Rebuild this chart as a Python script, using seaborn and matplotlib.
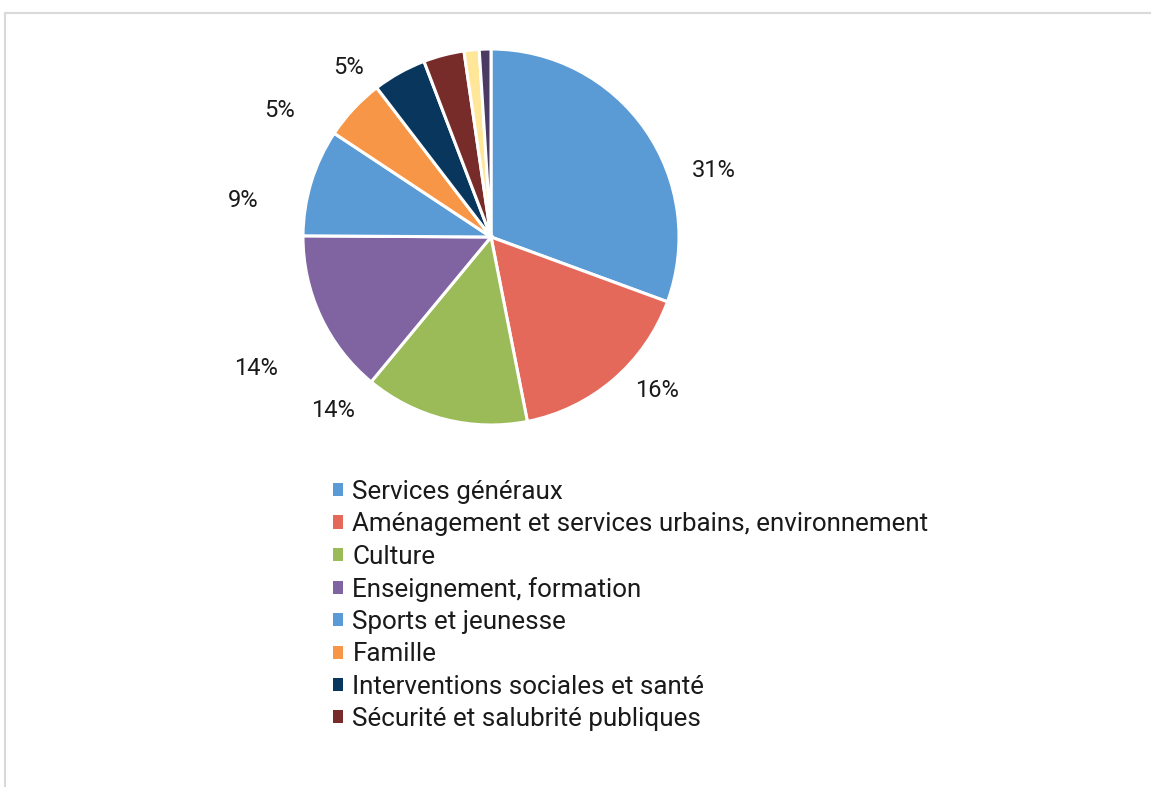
import numpy as np
import matplotlib
matplotlib.use("Agg")
import matplotlib.pyplot as plt
from matplotlib.lines import Line2D
from matplotlib.patches import Patch
import seaborn as sns

categories = [
    "Services généraux",
    "Aménagement et services urbains, environnement",
    "Culture",
    "Enseignement, formation",
    "Sports et jeunesse",
    "Famille",
    "Interventions sociales et santé",
    "Sécurité et salubrité publiques",
    "Autre 1",
    "Autre 2",
]
values = [30.6, 16.3, 14.1, 14.1, 9.2, 5.3, 4.6, 3.5, 1.3, 1.0]
pct_labels = ["31%", "16%", "14%", "14%", "9%", "5%", "5%", "", "", ""]
legend_count = 8

colors = ["#5B9BD5", "#E5695A", "#9BBB59", "#8064A2", "#5B9BD5",
          "#F79646", "#08365D", "#772C2A", "#FFE699", "#4B3A61"]

# label placement (degrees clockwise from top, distance in radii)
label_angle = [73.3, 132.8, 222.4, 240.8, 278.3, 301.0, 320.0]
label_dist = [1.24, 1.20, 1.25, 1.43, 1.33, 1.31, 1.18]

sns.set_theme(style="white")
plt.rcParams["font.family"] = ["Roboto", "DejaVu Sans"]

W, H = 1151, 787
fig = plt.figure(figsize=(W / 100, H / 100), dpi=100)

cx, cy, R = 491, 237, 188
span = 1.6
ax_w = 2 * span * R
ax = fig.add_axes([(cx - span * R) / W, (H - cy - span * R) / H, ax_w / W, ax_w / H])

pal = sns.color_palette(colors)
wedges, _ = ax.pie(values, colors=pal, startangle=90, counterclock=False,
                   wedgeprops=dict(edgecolor="white", linewidth=2.2))
ax.set_xlim(-span, span)
ax.set_ylim(-span, span)
ax.set_aspect("equal")
ax.axis("off")

for lab, a, d in zip(pct_labels, label_angle, label_dist):
    if lab:
        t = np.deg2rad(a)
        ax.text(d * np.sin(t), d * np.cos(t), lab, ha="center", va="center",
                fontsize=17, color="#1a1a1a")

handles = [Patch(facecolor=pal[i], edgecolor="none") for i in range(legend_count)]
leg = fig.legend(handles, categories[:legend_count], loc="upper left",
                 bbox_to_anchor=(333 / W, 1 - 480 / H), frameon=False,
                 fontsize=18.7, handlelength=0.4, handleheight=0.4,
                 handletextpad=0.35, labelspacing=0.32, borderpad=0,
                 borderaxespad=0)
for t in leg.get_texts():
    t.set_color("#1a1a1a")

# outer frame (gray line at top and left)
fig.add_artist(Line2D([4.5 / W, 4.5 / W], [0, 1 - 13 / H], transform=fig.transFigure,
                      color="#D9D9D9", linewidth=1.5))
fig.add_artist(Line2D([4.5 / W, 1], [1 - 13 / H, 1 - 13 / H], transform=fig.transFigure,
                      color="#D9D9D9", linewidth=1.5))

fig.savefig("out.png", dpi=100, facecolor="white")
